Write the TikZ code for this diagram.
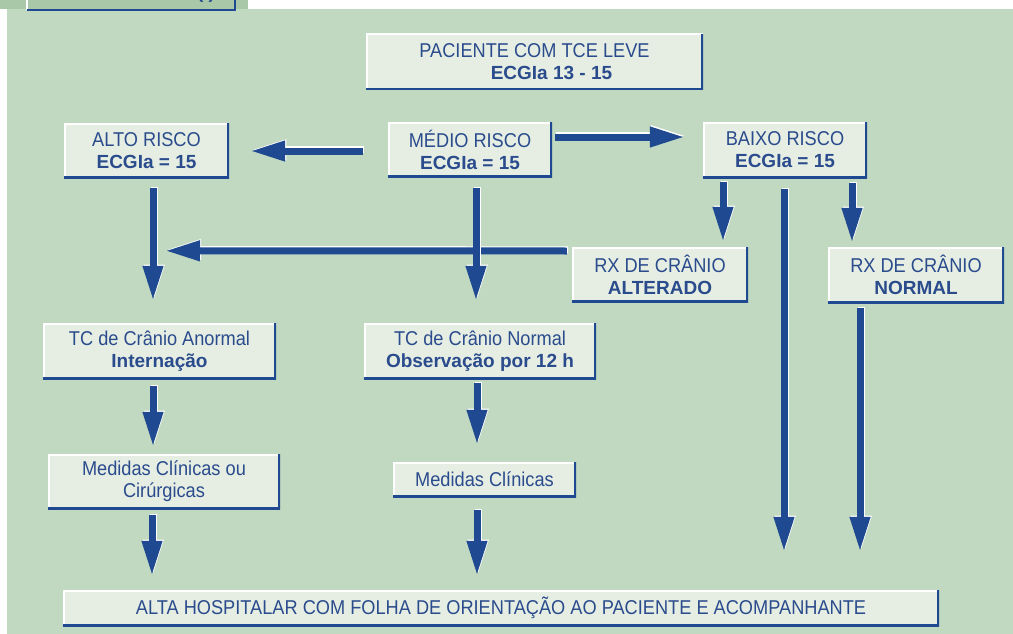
\documentclass[tikz,border=0pt]{standalone}
\usepackage{fontspec}
\setmainfont{Liberation Sans}
\newfontfamily\estreita[FakeStretch=0.91]{Liberation Sans}
\newfontfamily\negrito{Liberation Sans}
\usetikzlibrary{arrows.meta}

\definecolor{fundo}{RGB}{193,216,193}
\definecolor{faixa}{RGB}{168,200,168}
\definecolor{caixafundo}{RGB}{230,238,228}
\definecolor{azul}{RGB}{31,74,145}
\definecolor{textoazul}{RGB}{42,75,140}

\newcommand{\realce}[1]{{\negrito\bfseries\fontsize{19}{22}\selectfont #1}}

\tikzset{
  caixa/.style={fill=caixafundo, inner sep=0pt, align=center, text=textoazul,
    font=\estreita\fontsize{20}{22}\selectfont,
    path picture={
      \draw[white, line width=3pt] (path picture bounding box.south west)
        -- (path picture bounding box.north west) -- (path picture bounding box.north east);
      \draw[azul, line width=4pt] (path picture bounding box.north east)
        -- (path picture bounding box.south east) -- (path picture bounding box.south west);
    }},
  seta/.style={draw=azul, line width=7pt, -{Triangle[width=19pt,length=35pt]},
    preaction={draw=white, line width=7pt, -{Triangle[width=19pt,length=35pt]},
      transform canvas={xshift=1.2pt,yshift=1.2pt}}},
}

\begin{document}
\begin{tikzpicture}[x=1pt,y=-1pt]
  \useasboundingbox (0,0) rectangle (1013,634);
  \fill[white] (0,0) rectangle (1013,634);
  \fill[fundo] (7,9) rectangle (1013,634);
  \fill[faixa] (0,0) rectangle (248,9);
  % title box, cut off at the top
  \begin{scope}
    \clip (27,0) rectangle (235,9);
    \node[anchor=base, text=textoazul, font=\negrito\bfseries\fontsize{19}{22}\selectfont] (titulo) at (206,-1) {(I)};
  \end{scope}
  \draw[white, line width=1.5pt] (27,0) -- (27,10);
  \draw[azul, line width=2pt] (235,0) -- (235,10) -- (27,10);

  % boxes
  \node[caixa, minimum width=337pt, minimum height=56pt] (paciente) at (534.5,62)
    {PACIENTE COM TCE LEVE\\\hspace*{34pt}\realce{ECGIa 13 - 15}};
  \node[caixa, minimum width=165pt, minimum height=55pt] (alto) at (146.5,150.5)
    {ALTO RISCO\\\realce{ECGIa = 15}};
  \node[caixa, minimum width=164pt, minimum height=55pt] (medio) at (470,149.5)
    {MÉDIO RISCO\\\realce{ECGIa = 15}};
  \node[caixa, minimum width=164pt, minimum height=56pt] (baixo) at (785,150)
    {BAIXO RISCO\\\realce{ECGIa = 15}};
  \node[caixa, minimum width=176pt, minimum height=55pt] (rxalt) at (660,274.5)
    {RX DE CRÂNIO\\\realce{ALTERADO}};
  \node[caixa, minimum width=176pt, minimum height=56pt] (rxnorm) at (916,275)
    {RX DE CRÂNIO\\\realce{NORMAL}};
  \node[caixa, minimum width=233pt, minimum height=56pt] (tcanorm) at (159.5,351)
    {TC de Crânio Anormal\\\realce{Internação}};
  \node[caixa, minimum width=232pt, minimum height=56pt] (tcnorm) at (480,351)
    {TC de Crânio Normal\\\realce{Observação por 12 h}};
  \node[caixa, minimum width=232pt, minimum height=55pt] (medou) at (164,481.5)
    {Medidas Clínicas ou\\Cirúrgicas};
  \node[caixa, minimum width=183pt, minimum height=35pt] (medcli) at (484.5,479.5)
    {Medidas Clínicas};
  \node[caixa, minimum width=876pt, minimum height=36pt] (alta) at (501,608)
    {ALTA HOSPITALAR COM FOLHA DE ORIENTAÇÃO AO PACIENTE E ACOMPANHANTE};

  % arrows
  \draw[seta] ([xshift=-25pt,yshift=-1.5pt]medio.west) -- ([xshift=21pt,yshift=-0.5pt]alto.east);
  \draw[seta] ([xshift=3pt,yshift=12.5pt]medio.east) -- ([xshift=-18pt,yshift=13pt]baixo.west);
  \draw[seta] ([xshift=-5pt,yshift=23.5pt]rxalt.west) -- ([xshift=5.5pt,yshift=72pt]tcanorm.north);
  \draw[seta] ([xshift=6.5pt,yshift=-10pt]alto.south) -- ([xshift=-6.5pt,yshift=22pt]tcanorm.north);
  \draw[seta] ([xshift=6pt,yshift=-11pt]medio.south) -- ([xshift=-4pt,yshift=22pt]tcnorm.north);
  \draw[seta] ([xshift=-62pt,yshift=-4pt]baixo.south) -- ([xshift=63pt,yshift=5pt]rxalt.north);
  \draw[seta] ([xshift=-1pt,yshift=-11pt]baixo.south) -- ([xshift=283pt,yshift=38pt]alta.north);
  \draw[seta] ([xshift=67pt,yshift=-5pt]baixo.south) -- ([xshift=-64pt,yshift=4pt]rxnorm.north);
  \draw[seta] ([xshift=-56pt,yshift=-5pt]rxnorm.south) -- ([xshift=359pt,yshift=38pt]alta.north);
  \draw[seta] ([xshift=-6.5pt,yshift=-7pt]tcanorm.south) -- ([xshift=-11pt,yshift=7pt]medou.north);
  \draw[seta] ([xshift=-3pt,yshift=-4pt]tcnorm.south) -- ([xshift=-7.5pt,yshift=17pt]medcli.north);
  \draw[seta] ([xshift=-12pt,yshift=-6pt]medou.south) -- ([xshift=-349pt,yshift=14pt]alta.north);
  \draw[seta] ([xshift=-7.5pt,yshift=-13pt]medcli.south) -- ([xshift=-24pt,yshift=14pt]alta.north);
\end{tikzpicture}
\end{document}
